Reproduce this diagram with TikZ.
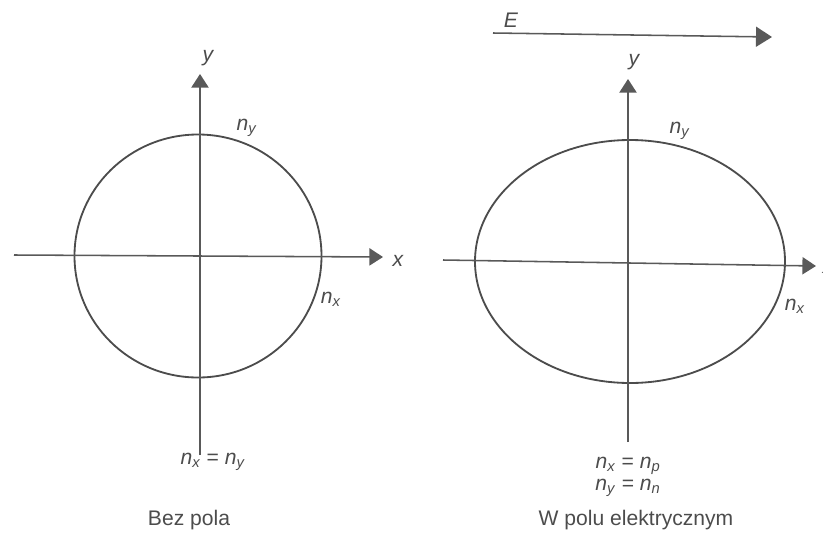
\documentclass[tikz,border=0pt]{standalone}
\usepackage{fontspec}
\setmainfont{Liberation Sans}
\usetikzlibrary{arrows.meta}
\newcommand{\nidx}[1]{\textit{n}\textsubscript{\textit{#1}}}

\begin{document}
\begin{tikzpicture}[x=0.025cm, y=-0.025cm, line width=1.1pt,
  font=\fontsize{15}{18}\selectfont, color=black!70,
  axis/.style={-{Triangle[length=3.4mm, width=4.3mm]}, black!65},
  field/.style={-{Triangle[length=4mm, width=5mm]}, black!65},
  curve/.style={black!70, line width=1.3pt},
  lab/.style={inner sep=1pt, font=\fontsize{15}{18}\selectfont\itshape},
  idx/.style={inner sep=1pt},
  caption/.style={inner sep=1pt, align=center}]
\useasboundingbox (0,0) rectangle (823,534);
% Left panel: no field
\coordinate (lW) at (14,255);
\coordinate (lE) at (383,257);
\coordinate (lS) at (200,455);
\coordinate (lN) at (200,74);
\draw[curve] (198,256) ellipse [x radius=123.5, y radius=121.5];
\draw[axis] (lW) -- (lE);
\draw[axis] (lS) -- (lN);
\node[lab] (lx) at (398,261) {x};
\node[lab] (ly) at (208,58) {y};
\node[idx] (lny) at (247,128) {\nidx{y}};
\node[idx] (lnx) at (331,299) {\nidx{x}};
\node[caption] (leq) at (213,462) {\nidx{x} = \nidx{y}};
\node[caption] (lcap) at (189,520) {Bez pola};
% Right panel: in the electric field
\coordinate (eW) at (493,33);
\coordinate (eE) at (772,37);
\draw[field] (eW) -- (eE);
\node[lab] (eL) at (511,20) {E};
\coordinate (rW) at (443,260);
\coordinate (rE) at (816,266);
\coordinate (rS) at (628,442);
\coordinate (rN) at (628,79);
\draw[curve] (630,261.5) ellipse [x radius=155, y radius=121.5];
\draw[axis] (rW) -- (rE);
\draw[axis] (rS) -- (rN);
\node[lab] (rx) at (828,268) {x};
\node[lab] (ry) at (634,62) {y};
\node[idx] (rny) at (680,131) {\nidx{y}};
\node[idx] (rnx) at (795,306) {\nidx{x}};
\node[caption] (req) at (628,477) {\nidx{x} = \nidx{p}\\[-2pt] \nidx{y} = \nidx{n}};
\node[caption] (rcap) at (636,520) {W polu elektrycznym};
\end{tikzpicture}
\end{document}
